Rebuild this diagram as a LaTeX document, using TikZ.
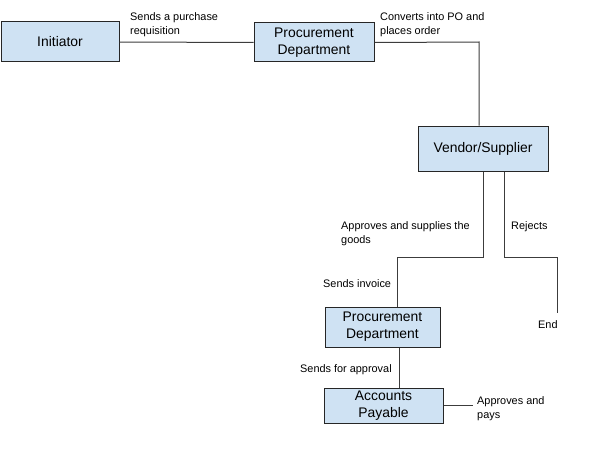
\documentclass[tikz,border=0pt]{standalone}
\usepackage{fontspec}
\setmainfont{Liberation Sans}
\definecolor{boxfill}{HTML}{CFE2F3}
\definecolor{linecol}{HTML}{3C3C3C}
\tikzset{
  box/.style={draw=black!85, line width=1pt, fill=boxfill, inner sep=0pt, align=center,
    font=\fontsize{13.9}{17}\selectfont},
  lbl/.style={inner sep=0pt, anchor=north west, align=left, font=\fontsize{10.9}{14}\selectfont},
  conn/.style={draw=linecol, line width=1pt}
}
\begin{document}
\begin{tikzpicture}[x=1pt,y=-1pt]
\useasboundingbox (0,0) rectangle (592,460);
\node[box, minimum width=118pt, minimum height=40pt] (init) at (60,42) {Initiator};
\node[box, minimum width=120pt, minimum height=39pt] (proc1) at (314,42.5) {Procurement\\Department};
\node[box, minimum width=130pt, minimum height=45pt] (vend) at (483,148.5) {Vendor/Supplier};
\node[box, minimum width=115pt, minimum height=40pt] (proc2) at (382.5,327) {Procurement\\Department};
\node[box, minimum width=119pt, minimum height=35pt] (ap) at (383.5,405.5) {Accounts\\Payable};

\coordinate (c1) at (479,42);
\coordinate (a1) at (483,257);
\coordinate (a2) at (397,257);
\coordinate (r1) at (504,257);
\coordinate (r2) at (557,257);
\coordinate (r3) at (557,313);
\coordinate (p1) at (399,0);
\coordinate (e1) at (473,405);

\draw[conn] (init.east) -- (proc1.west);
\draw[conn] (proc1.east) -- (c1) -- (c1 |- vend.north);
\draw[conn] (a1 |- vend.south) -- (a1) -- (a2) -- (a2 |- proc2.north);
\draw[conn] (r1 |- vend.south) -- (r1) -- (r2) -- (r3);
\draw[conn] (p1 |- proc2.south) -- (p1 |- ap.north);
\draw[conn] (ap.east |- e1) -- (e1);

\node[lbl] (l1) at (130,12) {Sends a purchase\\requisition};
\node[lbl] (l2) at (380,12) {Converts into PO and\\places order};
\node[lbl] (l3) at (341,221) {Approves and supplies the\\goods};
\node[lbl] (l4) at (511,221) {Rejects};
\node[lbl] (l5) at (323,279) {Sends invoice};
\node[lbl] (l6) at (538,320) {End};
\node[lbl] (l7) at (300,364) {Sends for approval};
\node[lbl] (l8) at (477,396) {Approves and\\pays};
\end{tikzpicture}
\end{document}
